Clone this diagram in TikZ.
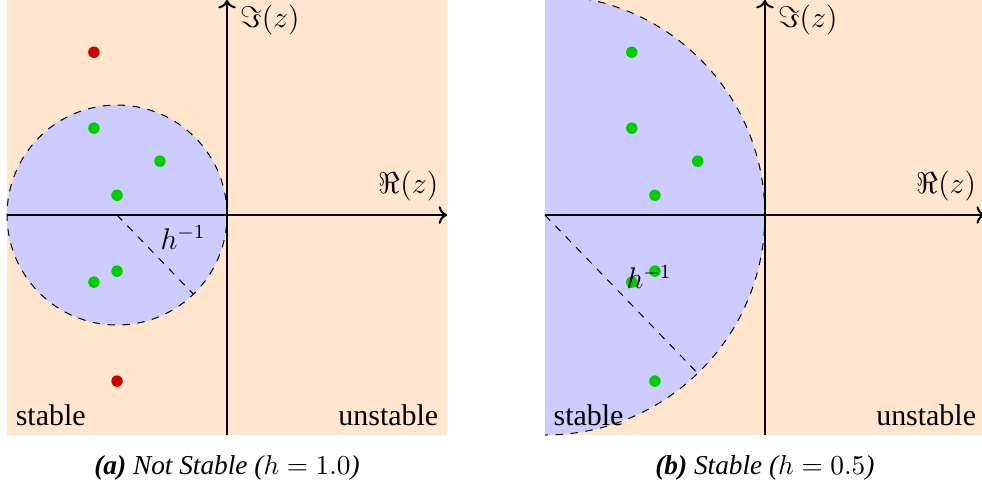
\documentclass[tikz,border=0pt]{standalone}
\usepackage{fontspec}
\setmainfont{Liberation Serif}
\usetikzlibrary{arrows.meta, positioning, calc}
\definecolor{unstablebg}{RGB}{255,230,204}
\definecolor{stableregion}{RGB}{204,204,255}
\definecolor{goodpole}{RGB}{0,204,0}
\definecolor{badpole}{RGB}{204,0,0}
\tikzset{
  pole/.style={circle, fill=#1, inner sep=0pt, minimum size=4.6pt},
  axis/.style={->, thick},
  region/.style={font=\large},
  subcap/.style={font=\fontsize{10.95}{13}\selectfont},
}

\begin{document}
\begin{tikzpicture}[x=1.55cm, y=1.55cm]
  \useasboundingbox (-2.064,-2.482) rectangle (6.864,1.955);

  % (a) h = 1.0
  \begin{scope}
    \fill[unstablebg] (-2,-2) rectangle (2,1.955);
    \coordinate (c1) at (-1,0);
    \filldraw[fill=stableregion, draw=black, dashed] (c1) circle (1);
    \coordinate (xl1) at (-2,0);
    \coordinate (xr1) at (2,0);
    \coordinate (yb1) at (0,-2);
    \coordinate (yt1) at (0,1.955);
    \draw[axis] (xl1) -- (xr1);
    \draw[axis] (yb1) -- (yt1);
    \coordinate (r1) at ($(c1)+(-46:1)$);
    \draw[dashed] (c1) -- (r1) node[midway, above right=-2pt] {\large $h^{-1}$};
    \node[pole=badpole] (p1) at (-1.21,1.48) {};
    \node[pole=goodpole] (p2) at (-1.21,0.79) {};
    \node[pole=goodpole] (p3) at (-0.61,0.49) {};
    \node[pole=goodpole] (p4) at (-1,0.18) {};
    \node[pole=goodpole] (p5) at (-1,-0.51) {};
    \node[pole=goodpole] (p6) at (-1.21,-0.61) {};
    \node[pole=badpole] (p7) at (-1,-1.51) {};
    \node[region, anchor=south east] (re1) at (2,0.05) {$\Re(z)$};
    \node[region, anchor=west] (im1) at (0.04,1.77) {$\Im(z)$};
    \node[region, anchor=south west] (st1) at (-2,-2) {stable};
    \node[region, anchor=south east] (un1) at (2,-2) {unstable};
    \node[subcap] (cap1) at (0,-2.3) {\textbf{\textit{(a)}} \textit{Not Stable ($h=1.0$)}};
  \end{scope}

  % (b) h = 0.5
  \begin{scope}[shift={(4.89,0)}]
    \fill[unstablebg] (-2,-2) rectangle (2,1.955);
    \coordinate (c2) at (-2,0);
    \begin{scope}
      \clip (-2,-2) rectangle (2,1.955);
      \filldraw[fill=stableregion, draw=black, dashed] (c2) circle (2);
    \end{scope}
    \coordinate (xl2) at (-2,0);
    \coordinate (xr2) at (2,0);
    \coordinate (yb2) at (0,-2);
    \coordinate (yt2) at (0,1.955);
    \draw[axis] (xl2) -- (xr2);
    \draw[axis] (yb2) -- (yt2);
    \coordinate (r2) at ($(c2)+(-46:2)$);
    \draw[dashed] (c2) -- (r2);
    \node[pole=goodpole] (q1) at (-1.21,1.48) {};
    \node[pole=goodpole] (q2) at (-1.21,0.79) {};
    \node[pole=goodpole] (q3) at (-0.61,0.49) {};
    \node[pole=goodpole] (q4) at (-1,0.18) {};
    \node[pole=goodpole] (q5) at (-1,-0.51) {};
    \node[pole=goodpole] (q6) at (-1.21,-0.61) {};
    \node[pole=goodpole] (q7) at (-1,-1.51) {};
    \path (c2) -- (r2) node[midway, above right=-2pt] {\large $h^{-1}$};
    \node[region, anchor=south east] (re2) at (2,0.05) {$\Re(z)$};
    \node[region, anchor=west] (im2) at (0.04,1.77) {$\Im(z)$};
    \node[region, anchor=south west] (st2) at (-2,-2) {stable};
    \node[region, anchor=south east] (un2) at (2,-2) {unstable};
    \node[subcap] (cap2) at (0,-2.3) {\textbf{\textit{(b)}} \textit{Stable ($h=0.5$)}};
  \end{scope}
\end{tikzpicture}
\end{document}
